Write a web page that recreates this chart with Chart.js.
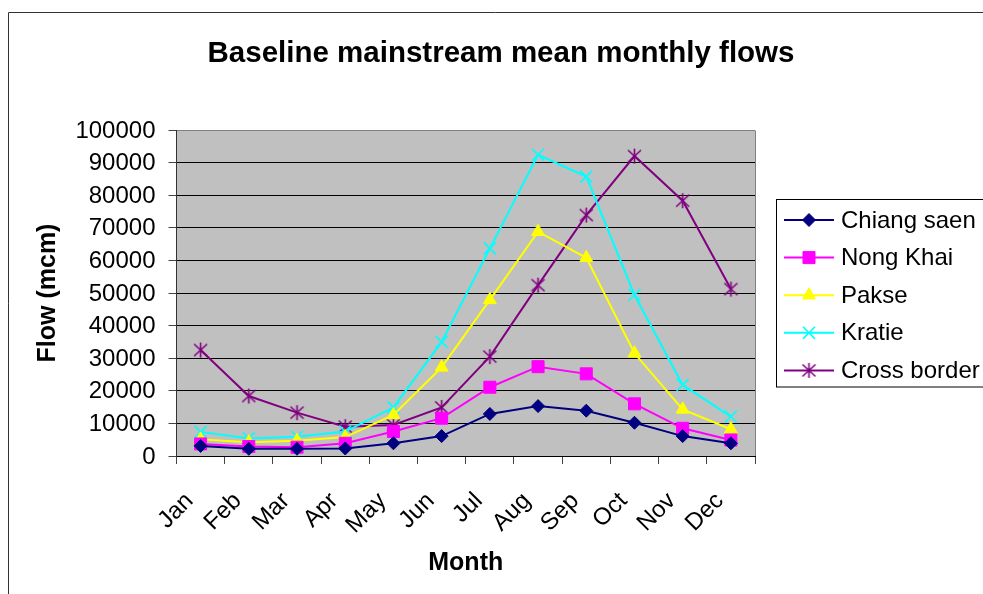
<!DOCTYPE html>
<html>
<head>
<meta charset="utf-8">
<script src="https://cdn.jsdelivr.net/npm/chart.js@4/dist/chart.umd.min.js"></script>
<style>
html,body{margin:0;padding:0;background:#fff;}
canvas{display:block;}
</style>
</head>
<body>
<canvas id="c" width="983" height="594"></canvas>
<script>
const months = ['Jan','Feb','Mar','Apr','May','Jun','Jul','Aug','Sep','Oct','Nov','Dec'];
const seriesNames = ['Chiang saen','Nong Khai','Pakse','Kratie','Cross border'];
const chiangSaen = [3100, 2200, 2200, 2300, 3900, 6100, 12900, 15300, 13900, 10200, 6100, 3900];
const nongKhai = [3700, 2900, 2700, 3900, 7500, 11600, 21100, 27400, 25200, 16000, 8500, 4900];
const pakse = [5100, 4200, 4700, 5800, 12600, 27200, 47900, 68800, 60800, 31500, 14300, 8200];
const kratie = [7400, 5400, 5900, 7500, 14900, 35000, 63700, 92400, 85700, 49400, 21800, 12100];
const crossBorder = [32500, 18400, 13300, 9000, 9500, 14900, 30500, 52400, 73900, 92000, 78300, 51200];
const yTickValues = [0,10000,20000,30000,40000,50000,60000,70000,80000,90000,100000];

const FONT = '"Liberation Sans", Arial, sans-serif';

// Excel-style asterisk marker (X plus vertical bar)
function makeStar(color){
  const c = document.createElement('canvas');
  c.width = 17; c.height = 17;
  const g = c.getContext('2d');
  g.strokeStyle = color; g.lineWidth = 1.6;
  g.beginPath();
  g.moveTo(2,2.5); g.lineTo(15,14.5);
  g.moveTo(15,2.5); g.lineTo(2,14.5);
  g.moveTo(8.5,1); g.lineTo(8.5,16);
  g.stroke();
  return c;
}
const starImg = makeStar('#800080');

function ds(label, data, color, style, radius, bw){
  return {
    label, data,
    borderColor: color, backgroundColor: color,
    borderWidth: 2, tension: 0,
    pointStyle: style, pointRadius: radius, pointHoverRadius: radius,
    pointBorderWidth: bw, pointBackgroundColor: color, pointBorderColor: color,
    pointHoverBorderWidth: bw
  };
}

const datasets = [
  ds(seriesNames[0], chiangSaen, '#000080', 'rectRot', 6.5, 1),
  ds(seriesNames[1], nongKhai, '#FF00FF', 'rect', 8.5, 1),
  ds(seriesNames[2], pakse, '#FFFF00', 'triangle', 7.5, 1),
  ds(seriesNames[3], kratie, '#00FFFF', 'crossRot', 8.5, 1.6),
  ds(seriesNames[4], crossBorder, '#800080', starImg, 8, 1.6)
];

const decor = {
  id: 'decor',
  beforeDraw(chart){
    const {ctx, chartArea:a} = chart;
    ctx.save();
    ctx.fillStyle = '#C0C0C0';
    ctx.fillRect(a.left, a.top, a.right - a.left, a.bottom - a.top);
    ctx.restore();
  },
  beforeDatasetsDraw(chart){
    const {ctx, chartArea:a} = chart;
    ctx.save();
    ctx.strokeStyle = '#808080';
    ctx.lineWidth = 1;
    ctx.beginPath();
    const r = Math.round(a.right) + 0.5;
    ctx.moveTo(r, Math.round(a.top) + 0.5);
    ctx.lineTo(r, Math.round(a.bottom));
    ctx.stroke();
    ctx.restore();
  },
  afterDraw(chart){
    const ctx = chart.ctx;
    ctx.save();
    // outer frame
    ctx.strokeStyle = '#333';
    ctx.lineWidth = 1;
    ctx.beginPath();
    ctx.moveTo(8.5, 594); ctx.lineTo(8.5, 12.5); ctx.lineTo(983, 12.5);
    ctx.stroke();
    // title
    ctx.fillStyle = '#000';
    ctx.font = 'bold 29.5px ' + FONT;
    ctx.textAlign = 'center';
    ctx.textBaseline = 'middle';
    ctx.fillText('Baseline mainstream mean monthly flows', 501, 54);
    // legend
    ctx.strokeStyle = '#000';
    ctx.lineWidth = 1;
    ctx.strokeRect(776.5, 199.5, 230, 187.5);
    ctx.font = '24px ' + FONT;
    ctx.textAlign = 'left';
    chart.data.datasets.forEach((d, i) => {
      const y = 220 + i * 37.6;
      ctx.strokeStyle = d.borderColor;
      ctx.lineWidth = 2;
      ctx.beginPath();
      ctx.moveTo(784, y); ctx.lineTo(834, y);
      ctx.stroke();
      ctx.fillStyle = d.pointBackgroundColor;
      ctx.strokeStyle = d.pointBorderColor;
      ctx.lineWidth = d.pointBorderWidth;
      Chart.helpers.drawPoint(ctx, {pointStyle: d.pointStyle, radius: d.pointRadius, rotation: 0, borderWidth: d.pointBorderWidth}, 809, y);
      ctx.fillStyle = '#000';
      ctx.fillText(d.label, 841, y + 1);
    });
    ctx.restore();
  }
};

new Chart(document.getElementById('c'), {
  type: 'line',
  data: { labels: months, datasets },
  plugins: [decor],
  options: {
    responsive: false,
    animation: false,
    devicePixelRatio: 1,
    layout: { padding: { left: 0, top: 130, right: 228, bottom: 0 } },
    plugins: { legend: { display: false }, title: { display: false }, tooltip: { enabled: false } },
    events: [],
    scales: {
      x: {
        type: 'category',
        offset: true,
        grid: { offset: true, drawOnChartArea: false, drawTicks: true, tickLength: 8, color: '#444', lineWidth: 1 },
        border: { display: true, color: '#000', width: 1 },
        ticks: { minRotation: 45, maxRotation: 45, autoSkip: false, color: '#000', padding: 23, labelOffset: -11, font: { family: FONT, size: 24 } },
        title: { display: true, text: 'Month', color: '#000', font: { family: FONT, size: 25, weight: 'bold' }, padding: { top: 0, bottom: 16 } },
        afterFit(s){ s.height = 138; }
      },
      y: {
        min: 0, max: 100000,
        afterBuildTicks(s){ s.ticks = yTickValues.map(v => ({ value: v })); },
        ticks: { color: '#000', padding: 13, labelOffset: 1, font: { family: FONT, size: 24 }, callback: v => String(v) },
        grid: { color: c => (c.tick && c.tick.value === 100000) ? '#808080' : '#000', tickColor: '#444', tickLength: 8, lineWidth: 1 },
        border: { display: true, color: '#333', width: 1 },
        title: { display: true, text: 'Flow (mcm)', color: '#000', font: { family: FONT, size: 25, weight: 'bold' }, padding: { top: 33, bottom: 0 } },
        afterFit(s){ s.width = 176.5; }
      }
    }
  }
});
</script>
</body>
</html>
